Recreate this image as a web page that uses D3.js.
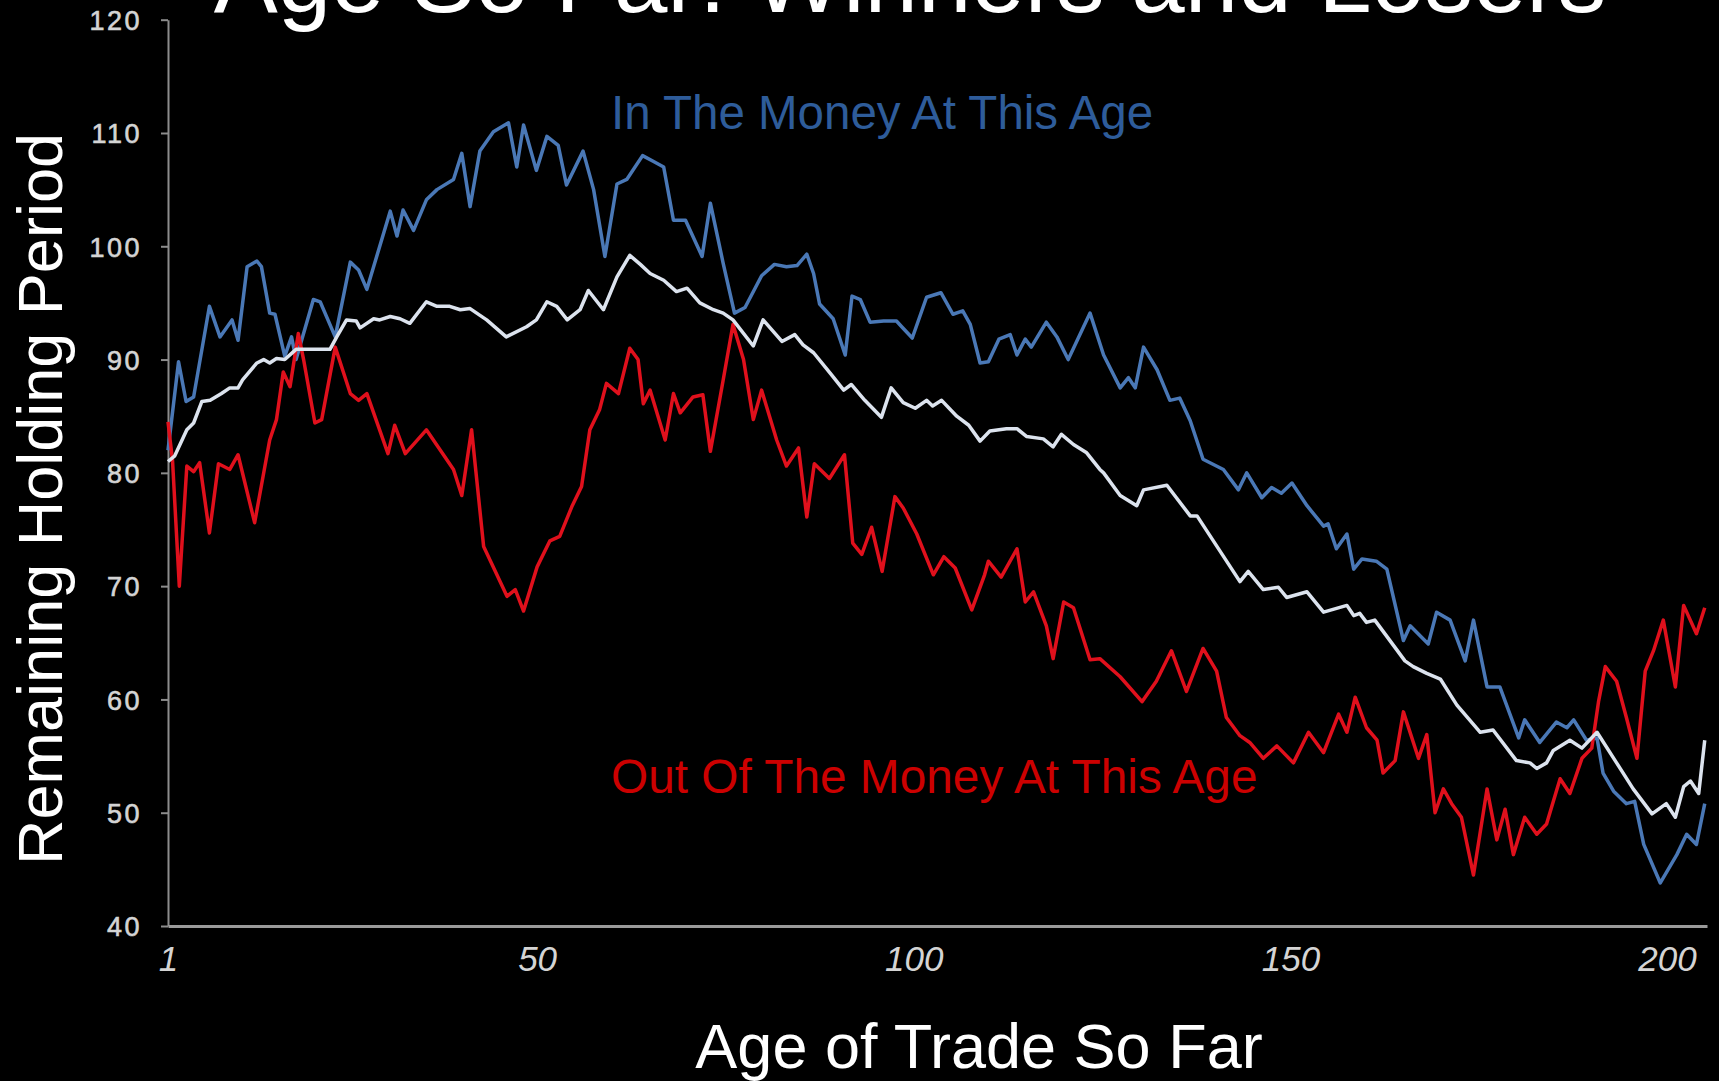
<!DOCTYPE html>
<html>
<head>
<meta charset="utf-8">
<script src="https://cdn.jsdelivr.net/npm/d3@7"></script>
<style>
  html, body { margin: 0; padding: 0; background: #000; overflow: hidden; }
  svg { display: block; }
  text { font-family: "Liberation Sans", Arial, Helvetica, sans-serif; }
</style>
</head>
<body>
<svg id="chart" width="1719" height="1081"></svg>
<script>
// ---------- data ----------
const chartTitle = "Age So Far: Winners and Losers";
const xTitle = "Age of Trade So Far";
const yTitle = "Remaining Holding Period";
const inMoneyLabel = "In The Money At This Age";
const outMoneyLabel = "Out Of The Money At This Age";

const xTicks = [1, 50, 100, 150, 200];
const yTicks = [40, 50, 60, 70, 80, 90, 100, 110, 120];

// In the money (blue)
const inMoneyAge = [1,2.4,3.4,4.4,6.5,7.9,9.5,10.3,11.5,12.8,13.4,14.5,15.2,16.5,17.4,18,20.3,21.2,23.2,25.2,26.3,27.4,30.5,31.4,32.2,33.6,35.3,36.7,38.9,40,41.1,42.4,44.2,46.2,47.3,48.2,49.9,51.3,52.8,53.9,56.1,57.5,59,60.6,61.9,64,65.4,66.8,68.1,69.7,71.9,73,74.7,76.2,77.6,79.8,81.5,83.1,84.5,85.8,86.7,87.5,89.3,90.9,91.8,92.9,94.2,96,97.7,98.4,99.8,101.7,103.6,105.2,106.5,107.5,108.8,109.9,111.3,112.8,113.7,114.8,115.6,117.6,119,120.5,123.4,125.2,127.4,128.5,129.4,130.5,132.3,134,135.3,136.7,138.4,141.1,143.1,144.2,146.2,147.5,148.8,150.2,152.2,154.4,155,156.1,157.5,158.4,159.5,161.4,162.8,165,165.9,168.3,169.4,171.2,173.2,174.3,176.1,177.8,180.3,181.1,183.1,185.3,186.7,187.6,189.3,190.7,191.5,192.9,194.6,195.7,196.9,199.1,201.3,202.6,203.9,205];
const inMoneyHold = [82,89.8,86.3,86.7,94.7,92,93.5,91.7,98.2,98.7,98.2,94.1,94,90.3,92,90,95.3,95.1,92,98.6,97.9,96.2,103.1,100.9,103.2,101.4,104.1,105,105.9,108.2,103.5,108.4,110.1,110.9,107,110.7,106.7,109.7,108.9,105.4,108.4,105,99.1,105.5,105.9,108,107.5,107,102.3,102.3,99.1,103.8,98.5,94.1,94.6,97.4,98.4,98.2,98.3,99.3,97.6,94.9,93.6,90.4,95.6,95.3,93.3,93.4,93.4,92.9,91.9,95.5,95.9,94,94.3,93.1,89.7,89.8,91.8,92.2,90.4,91.8,91.1,93.3,92,90,94.1,90.4,87.5,88.4,87.5,91.1,89.1,86.4,86.6,84.6,81.2,80.3,78.5,80,77.8,78.7,78.2,79.1,77.1,75.3,75.5,73.3,74.6,71.5,72.4,72.2,71.5,65.2,66.5,64.9,67.7,67,63.4,67,61.1,61.1,56.6,58.2,56.2,58,57.5,58.2,56.4,56.6,53.5,51.9,50.8,51,47.2,43.8,46.3,48.1,47.2,50.8];

// All trades (white)
const allAge = [1,1.9,3.5,4.4,5.5,6.6,8.1,9.2,10.3,10.9,12.8,13.7,14.5,15.4,16.5,18,19.4,20.7,22.5,23.4,24.7,26,26.5,28.3,29.1,30.5,31.8,33.1,35.3,36.7,38.4,39.8,41.1,43.3,45.9,48.6,49.9,51.3,52.6,54,55.7,56.8,58.8,60.6,62.3,63.7,65,66.8,68.5,69.9,71.6,73.4,74.7,76,78.7,80,82.5,84.2,85.3,86.7,88.9,90.7,91.7,93.5,95.7,97,98.6,100.2,101.7,102.5,103.7,105.7,107.3,108.8,110.1,112.3,113.7,115,117.2,118.5,119.6,121.2,122.9,124.7,125.2,127.4,129.6,130.5,133.6,136.7,137.6,143.3,144.4,146.4,148.4,149.5,152.2,154.4,157.5,158.4,159.2,160.1,161.2,165.2,166.3,168.1,169.9,172.1,175.2,176.9,180,181.8,182.7,184,184.9,187.1,188.7,190.7,193.3,195.5,198,199.9,201.1,202.2,203.1,204.2,205];
const allHold = [81,81.5,83.8,84.4,86.3,86.4,87,87.5,87.5,88.2,89.7,90,89.7,90.1,90,90.9,90.9,90.9,90.9,92,93.5,93.4,92.8,93.6,93.5,93.8,93.6,93.2,95.1,94.7,94.7,94.4,94.5,93.5,92,92.9,93.5,95.1,94.7,93.5,94.4,96.1,94.4,97.3,99.2,98.4,97.6,97,96,96.3,95,94.4,94.1,93.5,91.2,93.5,91.6,92.2,91.3,90.6,88.8,87.3,87.8,86.4,84.9,87.5,86.2,85.7,86.4,85.9,86.4,85,84.2,82.8,83.7,83.9,83.9,83.2,83,82.3,83.4,82.5,81.8,80.3,80,78,77.1,78.5,78.9,76.2,76.2,70.4,71.3,69.7,69.9,69,69.5,67.7,68.3,67.4,67.6,66.8,67,63.4,62.9,62.3,61.8,59.5,57.1,57.3,54.6,54.4,53.9,54.4,55.5,56.4,55.7,57.1,54.4,52.1,49.9,50.8,49.6,52.3,52.8,51.7,56.4];

// Out of the money (red)
const outMoneyAge = [1,1.6,2.5,3.5,4.4,5.2,6.5,7.7,9.2,10.3,12.5,14.5,15.4,16.3,17.2,18.3,19,20.5,21.4,23.2,25.2,26.3,27.4,30.2,31.1,32.5,35.3,38.9,40,41.3,42.9,44.6,46,47.1,48.2,50,51.7,53,54.6,55.9,57,58.3,59.2,60.8,62.3,63.4,64.1,65,67,68.1,69,70.7,72,73,74.7,76,77.4,78.7,79.8,81.8,83.1,84.7,85.8,86.8,88.8,90.8,91.9,93.1,94.4,95.8,97.5,98.6,100.4,102.6,104,105.5,107.7,109.4,109.9,111.6,113.7,114.8,115.9,117.6,118.5,119.9,121.2,123.4,124.7,127.4,130.3,132.2,134.2,136.2,138.4,140.2,141.5,143.3,144.6,146.4,148.2,150.4,152.4,154.4,156.4,157.5,158.6,160.1,161.5,162.3,163.9,165,167,168.1,169.2,170.3,171.4,172.7,174.3,176.1,177.4,178.5,179.6,181.1,182.7,184,185.8,187.1,188.7,190,190.9,191.8,193.3,194.6,196,197.1,198.2,199.5,201.1,202.2,203.9,205];
const outMoneyHold = [84.5,81.1,70,80.6,80.1,80.9,74.7,80.8,80.3,81.6,75.6,82.9,84.7,88.9,87.6,92.3,90,84.4,84.7,91.1,87,86.4,87,81.7,84.2,81.7,83.8,80.3,78,83.8,73.5,71.1,69.1,69.7,67.8,71.7,74,74.4,77,78.8,83.8,85.6,87.9,87,91,90,86.1,87.3,82.9,87,85.3,86.7,86.9,81.9,88.2,93.1,90,84.7,87.3,82.9,80.6,82.2,76.1,80.8,79.5,81.6,73.8,72.8,75.2,71.3,77.9,76.9,74.6,71,72.6,71.6,67.9,71,72.2,70.8,73.3,68.6,69.5,66.5,63.6,68.6,68.1,63.5,63.6,62,59.8,61.6,64.3,60.7,64.5,62.5,58.4,56.8,56.2,54.8,55.9,54.4,57.1,55.3,58.7,57.1,60.2,57.5,56.4,53.5,54.6,58.9,54.8,56.9,50,52.1,50.8,49.6,44.5,52.1,47.6,50.3,46.3,49.6,48.1,49,53,51.7,54.8,55.7,59.8,62.9,61.6,58.4,54.8,62.5,64.3,67,61.1,68.3,65.8,68.1];

// ---------- drawing ----------
const svg = d3.select("#chart");
const x = d3.scaleLinear().domain([1, 205.3]).range([168, 1707]);
const y = d3.scaleLinear().domain([40, 120]).range([926, 19.7]);

// title (clipped at top, as in reference)
svg.append("text")
  .attr("x", 910).attr("y", 12)
  .attr("text-anchor", "middle")
  .attr("fill", "#ffffff")
  .style("font-size", "96px")
  .text(chartTitle);

// y axis
const yAxis = svg.append("g")
  .attr("transform", `translate(${x(1)},0)`)
  .call(d3.axisLeft(y).tickValues(yTicks).tickSize(7).tickPadding(19).tickSizeOuter(0));
yAxis.select(".domain").attr("stroke", "#8c8c8c").attr("stroke-width", 2);
yAxis.selectAll(".tick line").attr("stroke", "#8c8c8c").attr("stroke-width", 2);
yAxis.selectAll(".tick text")
  .attr("fill", "#d4d4d4")
  .attr("stroke", "#d4d4d4")
  .attr("stroke-width", 0.6)
  .style("font-size", "27px")
  .style("letter-spacing", "2.5px")
  .attr("dy", "0.36em");

// x axis
const xAxis = svg.append("g")
  .attr("transform", `translate(0,${y(40)})`)
  .call(d3.axisBottom(x).tickValues(xTicks).tickSize(0).tickSizeOuter(0));
xAxis.select(".domain").attr("stroke", "#9a9a9a").attr("stroke-width", 3);
xAxis.selectAll(".tick text")
  .attr("fill", "#d4d4d4")
  .attr("y", 45).attr("dy", 0)
  .style("font-size", "35px")
  .style("font-style", "italic");

// axis titles
svg.append("text")
  .attr("x", 979).attr("y", 1068)
  .attr("text-anchor", "middle")
  .attr("fill", "#ffffff")
  .style("font-size", "63px")
  .text(xTitle);

svg.append("text")
  .attr("transform", "translate(62,499) rotate(-90)")
  .attr("text-anchor", "middle")
  .attr("fill", "#ffffff")
  .style("font-size", "63px")
  .text(yTitle);

// lines
const line = d3.line().x(d => x(d[0])).y(d => y(d[1]));
const series = [
  { age: inMoneyAge, hold: inMoneyHold, color: "#4a78b6" },
  { age: outMoneyAge, hold: outMoneyHold, color: "#e0101c" },
  { age: allAge, hold: allHold, color: "#dce3ee" }
];
series.forEach(s => {
  svg.append("path")
    .datum(d3.zip(s.age, s.hold))
    .attr("fill", "none")
    .attr("stroke", s.color)
    .attr("stroke-width", 3.5)
    .attr("stroke-linejoin", "round")
    .attr("d", line);
});

// annotations
svg.append("text")
  .attr("x", 611).attr("y", 129)
  .attr("fill", "#2e5c9a")
  .style("font-size", "47.5px")
  .text(inMoneyLabel);

svg.append("text")
  .attr("x", 611).attr("y", 793)
  .attr("fill", "#cc0000")
  .style("font-size", "47.8px")
  .text(outMoneyLabel);
</script>
</body>
</html>
